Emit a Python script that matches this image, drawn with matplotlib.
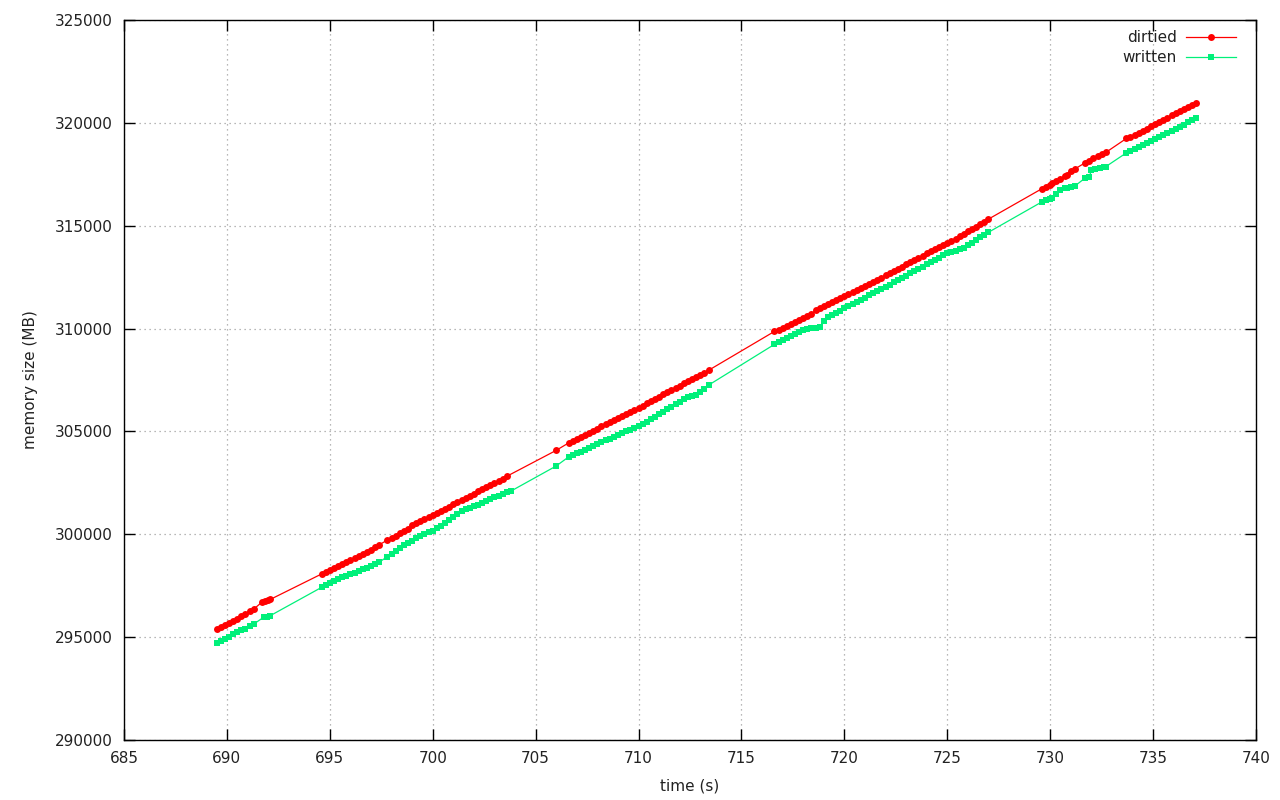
import matplotlib
matplotlib.use("Agg")
import matplotlib.pyplot as plt
from matplotlib.ticker import MultipleLocator

plt.rcParams['font.family'] = ['DejaVu Sans']

# ---- data (time s, memory MB) ----
dirtied_t = [
    689.5, 689.7, 689.9, 690.1, 690.3, 690.5, 690.7, 690.9, 691.1, 691.3,
    691.7, 691.85, 692.0, 692.1,
    694.6, 694.8, 695.0, 695.2, 695.4, 695.6, 695.8, 696.0, 696.2, 696.4,
    696.6, 696.8, 697.0, 697.2, 697.4,
    697.8, 698.0, 698.2, 698.4, 698.6, 698.8,
    699.0, 699.2, 699.4, 699.6, 699.8, 700.0, 700.2, 700.4, 700.6, 700.8,
    701.0, 701.2, 701.4, 701.6, 701.8, 702.0, 702.2, 702.4, 702.6, 702.8,
    703.0, 703.2, 703.4, 703.6,
    706.0,
    706.6, 706.8, 707.0, 707.2, 707.4, 707.6, 707.8, 708.0, 708.2, 708.4,
    708.6, 708.8, 709.0, 709.2, 709.4, 709.6, 709.8, 710.0, 710.2, 710.4,
    710.6, 710.8, 711.0, 711.2, 711.4, 711.6, 711.8, 712.0, 712.2, 712.4,
    712.6, 712.8, 713.0, 713.2, 713.4,
    716.6, 716.8, 717.0, 717.2, 717.4, 717.6, 717.8, 718.0, 718.2, 718.4,
    718.6, 718.8, 719.0, 719.2, 719.4, 719.6, 719.8, 720.0, 720.2, 720.4,
    720.6, 720.8, 721.0, 721.2, 721.4, 721.6, 721.8, 722.0, 722.2, 722.4,
    722.6, 722.8, 723.0, 723.2, 723.4, 723.6, 723.8, 724.0, 724.2, 724.4,
    724.6, 724.8, 725.0, 725.2, 725.4, 725.6, 725.8, 726.0, 726.2, 726.4,
    726.6, 726.8, 727.0,
    729.6, 729.8, 730.0, 730.1, 730.3, 730.5, 730.7, 730.8, 731.0, 731.2,
    731.7, 731.9, 732.1, 732.3, 732.5, 732.7,
    733.7, 733.9, 734.1, 734.3, 734.5, 734.7, 734.9, 735.1, 735.3, 735.5,
    735.7, 735.9, 736.1, 736.3, 736.5, 736.7, 736.9, 737.1,
]
dirtied_mb = [
    295390, 295480, 295600, 295690, 295800, 295900, 296010, 296120, 296250, 296360,
    296700, 296760, 296790, 296830,
    298070, 298170, 298260, 298360, 298450, 298550, 298640, 298730, 298830, 298930,
    299030, 299150, 299260, 299380, 299490,
    299720, 299820, 299930, 300040, 300160, 300280,
    300450, 300540, 300640, 300730, 300830, 300920, 301020, 301120, 301240, 301350,
    301460, 301570, 301680, 301780, 301880, 301980, 302080, 302180, 302290, 302390,
    302490, 302600, 302710, 302820,
    304080,
    304440, 304530, 304640, 304740, 304840, 304940, 305040, 305140, 305240, 305340,
    305440, 305540, 305640, 305740, 305840, 305940, 306040, 306140, 306250, 306360,
    306470, 306580, 306690, 306800, 306900, 307010, 307120, 307230, 307330, 307440,
    307540, 307650, 307760, 307860, 307970,
    309860, 309950, 310040, 310140, 310230, 310330, 310420, 310520, 310610, 310700,
    310900, 311000, 311100, 311200, 311300, 311400, 311490, 311580, 311680, 311780,
    311880, 311980, 312080, 312180, 312280, 312380, 312480, 312580, 312680, 312780,
    312900, 313010, 313120, 313230, 313340, 313450, 313550, 313650, 313750, 313850,
    313950, 314050, 314150, 314260, 314370, 314480, 314600, 314720, 314840, 314960,
    315080, 315200, 315320,
    316800, 316890, 316980, 317060, 317170, 317290, 317400, 317470, 317680, 317760,
    318060, 318160, 318270, 318380, 318480, 318560,
    319240, 319330, 319420, 319520, 319620, 319720, 319830, 319940, 320040, 320150,
    320260, 320370, 320480, 320590, 320690, 320790, 320880, 320960,
]

written_t = [
    689.5, 689.7, 689.9, 690.1, 690.3, 690.5, 690.7, 690.9, 691.1, 691.3,
    691.8, 691.95, 692.1,
    694.6, 694.8, 695.0, 695.2, 695.4, 695.6, 695.8, 696.0, 696.2, 696.4,
    696.6, 696.8, 697.0, 697.2, 697.4,
    697.8, 698.0, 698.2, 698.4, 698.6, 698.8, 699.0, 699.2, 699.4, 699.6,
    699.8, 700.0, 700.2, 700.4, 700.6, 700.8, 701.0, 701.2, 701.4, 701.6,
    701.8, 702.0, 702.2, 702.4, 702.6, 702.8, 703.0, 703.2, 703.4, 703.6, 703.8,
    706.0,
    706.6, 706.8, 707.0, 707.2, 707.4, 707.6, 707.8, 708.0, 708.2, 708.4,
    708.6, 708.8, 709.0, 709.2, 709.4, 709.6, 709.8, 710.0, 710.2, 710.4,
    710.6, 710.8, 711.0, 711.2, 711.4, 711.6, 711.8, 712.0, 712.2, 712.4,
    712.6, 712.8, 713.0, 713.2, 713.4,
    716.6, 716.8, 717.0, 717.2, 717.4, 717.6, 717.8, 718.0, 718.2, 718.4,
    718.6, 718.8, 719.0, 719.2, 719.4, 719.6, 719.8, 720.0, 720.2, 720.4,
    720.6, 720.8, 721.0, 721.2, 721.4, 721.6, 721.8, 722.0, 722.2, 722.4,
    722.6, 722.8, 723.0, 723.2, 723.4, 723.6, 723.8, 724.0, 724.2, 724.4,
    724.6, 724.8, 725.0, 725.2, 725.4, 725.6, 725.8, 726.0, 726.2, 726.4,
    726.6, 726.8, 727.0,
    729.6, 729.8, 730.0, 730.1, 730.3, 730.5, 730.7, 730.8, 731.0, 731.2,
    731.7, 731.9, 732.0, 732.2, 732.4, 732.6, 732.7,
    733.7, 733.9, 734.1, 734.3, 734.5, 734.7, 734.9, 735.1, 735.3, 735.5,
    735.7, 735.9, 736.1, 736.3, 736.5, 736.7, 736.9, 737.1,
]
written_mb = [
    294720, 294800, 294900, 295020, 295130, 295240, 295330, 295420, 295520, 295630,
    295980, 296000, 296040,
    297420, 297520, 297620, 297720, 297820, 297900, 297980, 298060, 298140, 298220,
    298290, 298370, 298450, 298540, 298640,
    298920, 299050, 299180, 299320, 299470, 299590, 299690, 299800, 299900, 300000,
    300090, 300180, 300290, 300400, 300550, 300700, 300850, 301000, 301120, 301220,
    301300, 301370, 301440, 301520, 301610, 301700, 301790, 301880, 301960, 302040, 302100,
    303320,
    303760, 303840, 303930, 304020, 304110, 304200, 304290, 304380, 304470, 304560,
    304650, 304740, 304830, 304920, 305000, 305070, 305150, 305240, 305350, 305470,
    305590, 305710, 305830, 305950, 306070, 306190, 306310, 306430, 306560, 306680,
    306740, 306790, 306900, 307080, 307250,
    309230, 309330, 309430, 309530, 309630, 309720, 309820, 309920, 310000, 310030,
    310050, 310080, 310350, 310560, 310660, 310760, 310870, 310980, 311080, 311190,
    311300, 311400, 311510, 311610, 311720, 311820, 311930, 312040, 312140, 312250,
    312350, 312460, 312570, 312680, 312790, 312900, 313010, 313120, 313230, 313340,
    313450, 313560, 313660, 313730, 313790, 313860, 313940, 314050, 314170, 314300,
    314430, 314560, 314680,
    316160, 316230, 316300, 316350, 316560, 316740, 316820, 316840, 316880, 316930,
    317320, 317370, 317700, 317760, 317810, 317850, 317870,
    318540, 318640, 318740, 318840, 318940, 319040, 319140, 319230, 319330, 319420,
    319520, 319620, 319720, 319820, 319920, 320020, 320130, 320230,
]

series_labels = ["dirtied", "written"]
series_colors = ["#ff0000", "#00f07a"]

fig = plt.figure(figsize=(12.8, 8.0), dpi=100)
ax = fig.add_axes([124 / 1280, 60 / 800, (1256 - 124) / 1280, (740 - 20) / 800])

ax.plot(dirtied_t, dirtied_mb, color=series_colors[0], lw=0.9, marker='o',
        markersize=5.0, markeredgewidth=0, label=series_labels[0])
ax.plot(written_t, written_mb, color=series_colors[1], lw=0.9, marker='s',
        markersize=4.6, markeredgewidth=0, label=series_labels[1])

ax.set_xlim(685, 740)
ax.set_ylim(290000, 325000)
ax.xaxis.set_major_locator(MultipleLocator(5))
ax.yaxis.set_major_locator(MultipleLocator(5000))

ax.grid(True, color='#a0a0a0', linestyle=(0, (1, 3)), linewidth=0.9)
ax.set_axisbelow(True)
for s in ax.spines.values():
    s.set_color('black')
    s.set_linewidth(1.0)

ax.tick_params(direction='in', length=8, width=1, top=True, right=True,
               labelsize=11, colors='black', pad=8)
for lab in ax.get_xticklabels() + ax.get_yticklabels():
    lab.set_color('#222222')

ax.set_xlabel("time (s)", fontsize=11, labelpad=9, color='#222222')
ax.set_ylabel("memory size (MB)", fontsize=11, labelpad=12, color='#222222')

leg = ax.legend(loc='upper right', bbox_to_anchor=(0.988, 0.994), frameon=False,
                markerfirst=False, fontsize=11, handlelength=3.3,
                handletextpad=0.6, labelspacing=0.3, borderaxespad=0.2,
                borderpad=0.2)
for t in leg.get_texts():
    t.set_color('#222222')

fig.savefig("out.png", dpi=100)
